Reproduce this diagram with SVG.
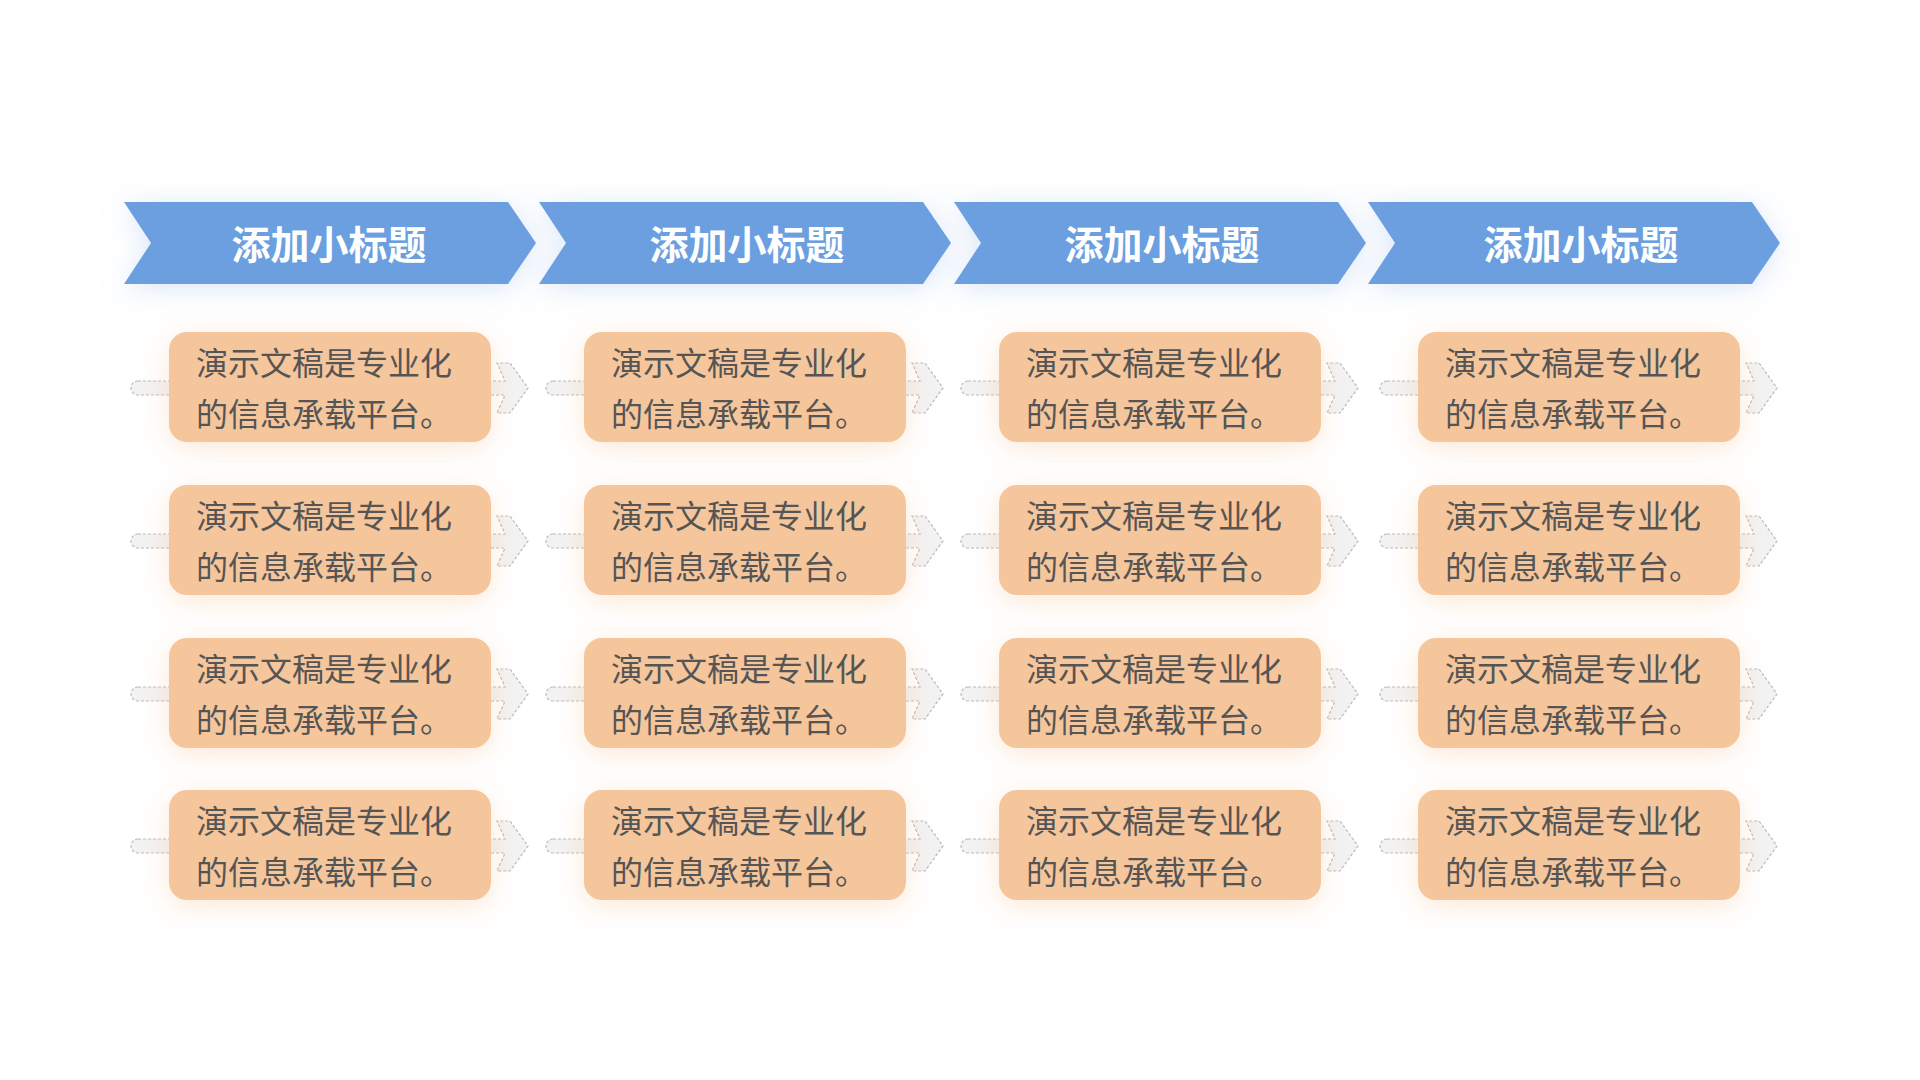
<svg xmlns="http://www.w3.org/2000/svg" width="1920" height="1080" viewBox="0 0 1920 1080">
<defs>
<style>
.hd{fill:#6C9FE0;filter:url(#bs)}
.ht{font-family:"Noto Sans CJK SC",sans-serif;font-weight:700;font-size:39px;fill:#fff;text-anchor:middle}
.bx{fill:#F5C69C;filter:url(#os)}
.bt{font-family:"Noto Sans CJK SC",sans-serif;font-size:32px;fill:#555}
.ar{fill:#F3F2F2;stroke:#BBBBBB;stroke-width:1.2;stroke-dasharray:3 2}
</style>
<filter id="bs" x="-20%" y="-80%" width="140%" height="260%"><feDropShadow dx="0" dy="4" stdDeviation="14" flood-color="#6C9FE0" flood-opacity="0.25"/></filter>
<filter id="os" x="-20%" y="-50%" width="140%" height="200%"><feDropShadow dx="0" dy="6" stdDeviation="14" flood-color="#F5B07A" flood-opacity="0.3"/></filter>
<path id="chev" d="M0,0 H384 L412,41 L384,82 H0 L27,41 Z"/>
<path id="arr" d="M138,381 H505 L497,363 H510 L528,388 L510,413 H497 L505,395 H138 A7,7 0 0 1 138,381 Z"/>
<g id="cell">
<use href="#arr" class="ar"/>
<rect x="169" y="332" width="322" height="110" rx="18" class="bx"/>
<text class="bt" x="196" y="375">演示文稿是专业化</text>
<text class="bt" x="196" y="426">的信息承载平台。</text>
</g>
</defs>
<rect width="1920" height="1080" fill="#fff"/>
<g id="headers">
<g id="h1"><use href="#chev" x="124" y="202" class="hd"/><text class="ht" x="329" y="259">添加小标题</text></g>
<g id="h2"><use href="#chev" x="539" y="202" class="hd"/><text class="ht" x="747" y="259">添加小标题</text></g>
<g id="h3"><use href="#chev" x="954" y="202" class="hd"/><text class="ht" x="1162" y="259">添加小标题</text></g>
<g id="h4"><use href="#chev" x="1368" y="202" class="hd"/><text class="ht" x="1581" y="259">添加小标题</text></g>
</g>
<g id="connectors"></g>
<g id="c1">
<use href="#cell" x="0" y="0"/><use href="#cell" x="0" y="153"/><use href="#cell" x="0" y="306"/><use href="#cell" x="0" y="458"/>
</g>
<g id="c2">
<use href="#cell" x="415" y="0"/><use href="#cell" x="415" y="153"/><use href="#cell" x="415" y="306"/><use href="#cell" x="415" y="458"/>
</g>
<g id="c3">
<use href="#cell" x="830" y="0"/><use href="#cell" x="830" y="153"/><use href="#cell" x="830" y="306"/><use href="#cell" x="830" y="458"/>
</g>
<g id="c4">
<use href="#cell" x="1249" y="0"/><use href="#cell" x="1249" y="153"/><use href="#cell" x="1249" y="306"/><use href="#cell" x="1249" y="458"/>
</g>
</svg>
